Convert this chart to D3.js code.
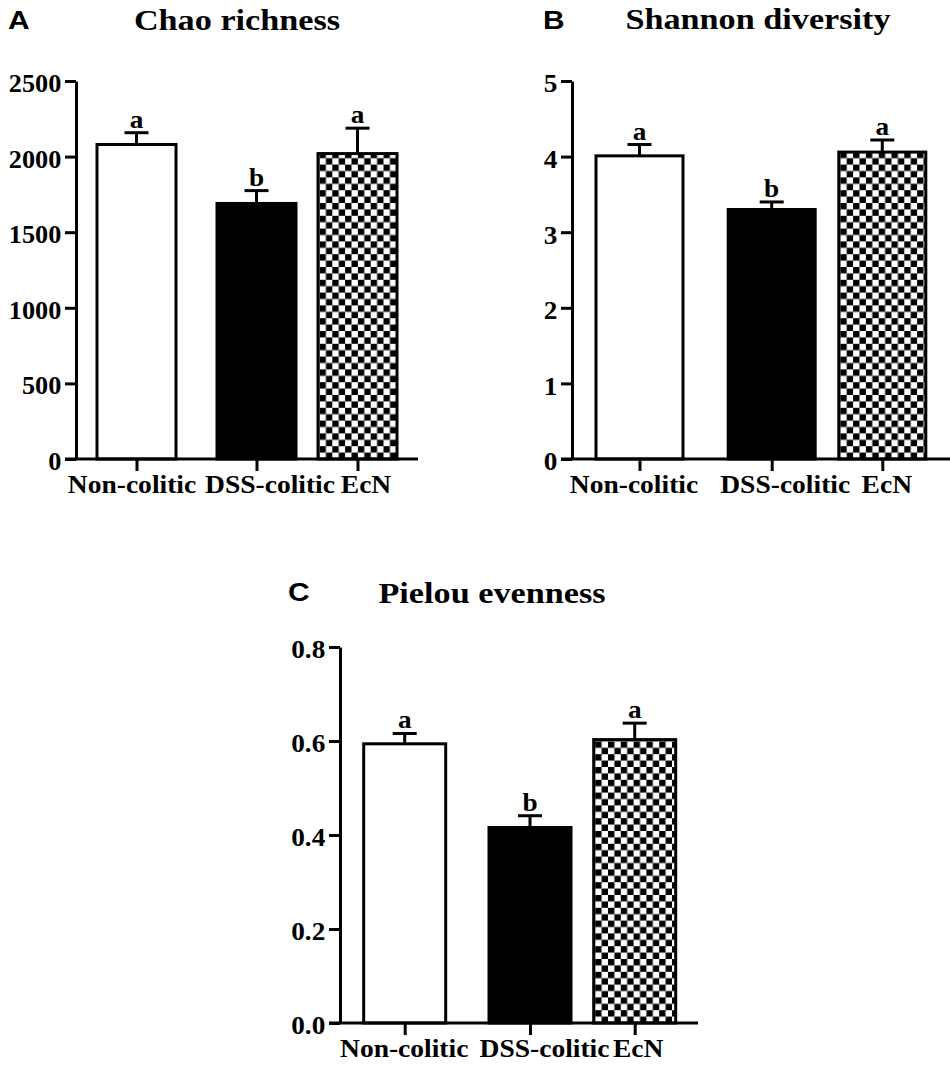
<!DOCTYPE html>
<html>
<head>
<meta charset="utf-8">
<script src="https://cdn.jsdelivr.net/npm/d3@7"></script>
<style>
  body { margin: 0; background: #fff; }
  text { font-family: "Liberation Serif", "Times New Roman", serif; font-weight: bold; fill: #000; }
  .panel-letter { font-family: "Liberation Sans", Arial, sans-serif; }
</style>
</head>
<body>
<div id="chart"></div>
<script>
// data
var groups = ["Non-colitic", "DSS-colitic", "EcN"];
var sigLetters = ["a", "b", "a"];

var chaoMean = [2080, 1690, 2020];
var chaoErr = [78, 85, 168];
var chaoTicks = [0, 500, 1000, 1500, 2000, 2500];

var shannonMean = [4.01, 3.30, 4.06];
var shannonErr = [0.15, 0.10, 0.16];
var shannonTicks = [0, 1, 2, 3, 4, 5];

var pielouMean = [0.594, 0.416, 0.603];
var pielouErr = [0.022, 0.025, 0.035];
var pielouTicks = [0, 0.2, 0.4, 0.6, 0.8];

var svg = d3.select("#chart")
    .append("svg")
    .attr("width", 950)
    .attr("height", 1068);

svg.append("rect")
    .attr("width", 950)
    .attr("height", 1068)
    .attr("fill", "#fff");

// layout for each panel (pixels)
var panels = [
    {
        id: "A", title: "Chao richness", mean: chaoMean, err: chaoErr, ticks: chaoTicks, fmt: d3.format("d"),
        axisX: 76, top: 81, bottom: 459, xEnd: 418, barW: 82,
        centers: [136.5, 256.5, 357.5], labelDx: [-5, 13, 8],
        letterPos: [8, 29], titlePos: [237, 30], tickFont: 25
    },
    {
        id: "B", title: "Shannon diversity", mean: shannonMean, err: shannonErr, ticks: shannonTicks, fmt: d3.format("d"),
        axisX: 572, top: 81, bottom: 459, xEnd: 952, barW: 90,
        centers: [639.5, 771.7, 882.3], labelDx: [-6, 13, 4],
        letterPos: [543, 29], titlePos: [758, 29], tickFont: 26
    },
    {
        id: "C", title: "Pielou evenness", mean: pielouMean, err: pielouErr, ticks: pielouTicks, fmt: d3.format(".1f"),
        axisX: 340, top: 647, bottom: 1023, xEnd: 698, barW: 85,
        centers: [404.7, 530, 634.7], labelDx: [-1, 14, 3],
        letterPos: [288, 601], titlePos: [492, 603], tickFont: 26
    }
];

var defs = svg.append("defs");

panels.forEach(function(p) {
    var g = svg.append("g").attr("class", "panel-" + p.id);

    var yScale = d3.scaleLinear()
        .domain([0, d3.max(p.ticks)])
        .range([p.bottom, p.top]);

    var xScale = d3.scaleOrdinal()
        .domain(groups)
        .range(p.centers);

    // checker pattern for the EcN bar
    var cell = 6.4;
    var pat = defs.append("pattern")
        .attr("id", "checker" + p.id)
        .attr("patternUnits", "userSpaceOnUse")
        .attr("width", cell * 2)
        .attr("height", cell * 2)
        .attr("patternTransform", `translate(${xScale("EcN") - p.barW / 2 + 3}, ${p.bottom})`);
    pat.append("rect").attr("width", cell * 2).attr("height", cell * 2).attr("fill", "#fff");
    pat.append("rect").attr("width", cell).attr("height", cell).attr("fill", "#000");
    pat.append("rect").attr("x", cell).attr("y", cell).attr("width", cell).attr("height", cell).attr("fill", "#000");

    var fills = ["#fff", "#000", `url(#checker${p.id})`];

    var rows = groups.map(function(name, i) {
        return { name: name, mean: p.mean[i], err: p.err[i], sig: sigLetters[i], fill: fills[i] };
    });

    // bars
    g.selectAll("rect.bar")
        .data(rows)
        .enter()
        .append("rect")
        .attr("class", "bar")
        .attr("x", d => xScale(d.name) - p.barW / 2 + 1.5)
        .attr("y", d => yScale(d.mean))
        .attr("width", p.barW - 3)
        .attr("height", d => p.bottom - yScale(d.mean))
        .attr("fill", d => d.fill)
        .attr("stroke", "#000")
        .attr("stroke-width", 3);

    // error bars (upper only)
    var eb = g.selectAll("g.err")
        .data(rows)
        .enter()
        .append("g")
        .attr("class", "err");

    eb.append("line")
        .attr("x1", d => xScale(d.name))
        .attr("x2", d => xScale(d.name))
        .attr("y1", d => yScale(d.mean))
        .attr("y2", d => yScale(d.mean + d.err))
        .attr("stroke", "#000")
        .attr("stroke-width", 3);

    eb.append("line")
        .attr("x1", d => xScale(d.name) - 12)
        .attr("x2", d => xScale(d.name) + 12)
        .attr("y1", d => yScale(d.mean + d.err))
        .attr("y2", d => yScale(d.mean + d.err))
        .attr("stroke", "#000")
        .attr("stroke-width", 3);

    eb.append("text")
        .attr("transform", d => `translate(${xScale(d.name)}, ${yScale(d.mean + d.err) - 5}) scale(1.05, 1)`)
        .attr("text-anchor", "middle")
        .style("font-size", "26px")
        .text(d => d.sig);

    // y axis
    var yAxis = d3.axisLeft(yScale)
        .tickValues(p.ticks)
        .tickFormat(p.fmt)
        .tickSize(11)
        .tickSizeOuter(0)
        .tickPadding(3);

    var yg = g.append("g")
        .attr("transform", `translate(${p.axisX}, 0)`)
        .call(yAxis);
    yg.select(".domain").attr("stroke-width", 3);
    yg.selectAll(".tick line").attr("stroke-width", 3);
    yg.selectAll(".tick text")
        .attr("dy", "0.42em")
        .attr("transform", "scale(1.05, 1)")
        .style("font-size", p.tickFont + "px")
        .style("font-family", "Liberation Serif")
        .style("font-weight", "bold");

    // x axis
    var xAxis = d3.axisBottom(xScale)
        .tickSize(12)
        .tickPadding(4);

    var xg = g.append("g")
        .attr("transform", `translate(0, ${p.bottom})`)
        .call(xAxis);
    xg.select(".domain").remove();
    xg.selectAll(".tick line").attr("stroke-width", 3);
    xg.selectAll(".tick text")
        .attr("dx", (d, i) => p.labelDx[i] / 1.08)
        .attr("transform", "scale(1.08, 1)")
        .style("font-size", "25.5px")
        .style("font-family", "Liberation Serif")
        .style("font-weight", "bold");

    g.append("line")
        .attr("x1", p.axisX - 11)
        .attr("x2", p.xEnd)
        .attr("y1", p.bottom)
        .attr("y2", p.bottom)
        .attr("stroke", "#000")
        .attr("stroke-width", 3);

    // panel letter and title
    g.append("text")
        .attr("class", "panel-letter")
        .attr("transform", `translate(${p.letterPos[0]}, ${p.letterPos[1]}) scale(1.15, 1)`)
        .style("font-size", "26px")
        .text(p.id);

    g.append("text")
        .attr("transform", `translate(${p.titlePos[0]}, ${p.titlePos[1]}) scale(1.18, 1)`)
        .attr("text-anchor", "middle")
        .style("font-size", "29px")
        .text(p.title);
});
</script>
</body>
</html>
